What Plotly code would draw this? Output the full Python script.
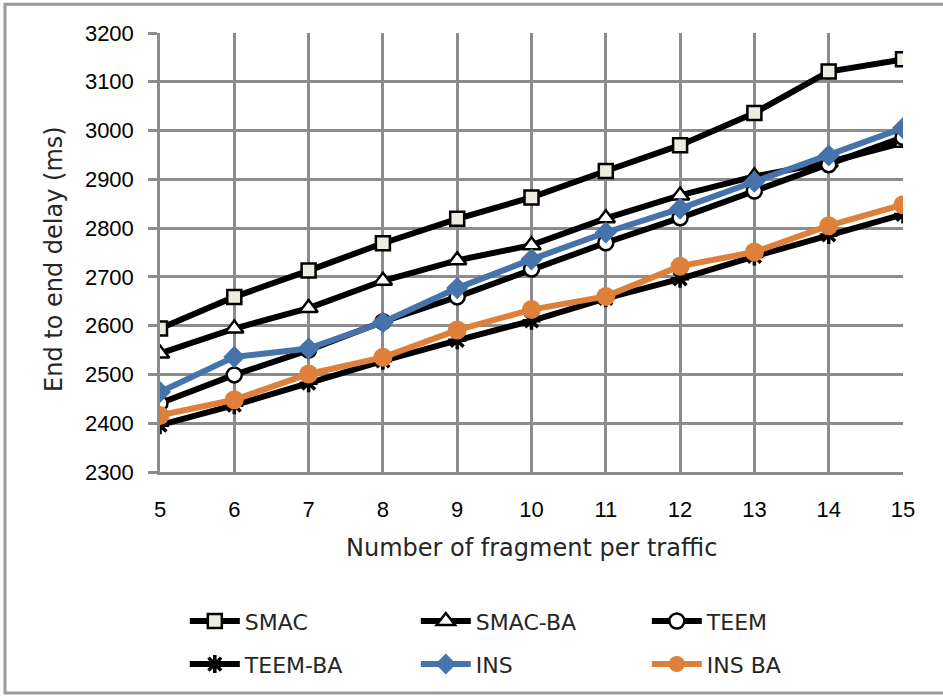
import plotly.graph_objects as go

x_vals = [5, 6, 7, 8, 9, 10, 11, 12, 13, 14, 15]

smac =    [2594, 2659, 2713, 2769, 2819, 2863, 2917, 2970, 3036, 3121, 3146]
smac_ba = [2543, 2594, 2636, 2692, 2734, 2765, 2820, 2867, 2906, 2935, 2975]
teem =    [2441, 2499, 2550, 2608, 2659, 2716, 2770, 2821, 2876, 2930, 2986]
teem_ba = [2396, 2437, 2482, 2528, 2570, 2610, 2656, 2696, 2742, 2786, 2828]
ins =     [2464, 2536, 2553, 2607, 2677, 2736, 2791, 2840, 2895, 2949, 3005]
ins_ba =  [2416, 2448, 2501, 2535, 2591, 2633, 2660, 2722, 2751, 2805, 2848]

y_ticks = [2300, 2400, 2500, 2600, 2700, 2800, 2900, 3000, 3100, 3200]

fig = go.Figure()

LW = 6
series = [
    ("SMAC", smac, "black", dict(symbol="square", size=14, color="#eeebe0", line=dict(color="black", width=2.5)), "legend"),
    ("SMAC-BA", smac_ba, "black", dict(symbol="triangle-up", size=16, color="white", line=dict(color="black", width=2.5)), "legend"),
    ("TEEM", teem, "black", dict(symbol="circle", size=15, color="white", line=dict(color="black", width=2.5)), "legend"),
    ("TEEM-BA", teem_ba, "black", dict(symbol="asterisk-open", size=15, color="black", line=dict(color="black", width=3.5)), "legend2"),
    ("INS", ins, "#4673aa", dict(symbol="diamond", size=17, color="#4673aa", line=dict(color="#4673aa", width=0)), "legend2"),
    ("INS BA", ins_ba, "#de8039", dict(symbol="circle", size=19, color="#de8039", line=dict(color="#de8039", width=0)), "legend2"),
]

for name, ys, col, mk, lg in series:
    fig.add_trace(go.Scatter(
        x=x_vals, y=ys, name=name, mode="lines+markers",
        line=dict(color=col, width=LW), marker=mk, legend=lg,
    ))

grid_col = "#8c8c8c"
tick_font = dict(family="Liberation Sans, Arial, sans-serif", size=22, color="black")
title_font = dict(family="DejaVu Sans, sans-serif", size=24, color="#262626")
legend_font = dict(family="DejaVu Sans, sans-serif", size=22, color="#262626")

fig.update_layout(
    width=943, height=697,
    margin=dict(l=160, r=40, t=33, b=223),
    paper_bgcolor="white", plot_bgcolor="white",
    showlegend=True,
    legend=dict(orientation="h", x=0.0334, y=-0.292, xanchor="left", yanchor="top",
                font=legend_font, entrywidth=166, entrywidthmode="pixels",
                itemwidth=50, bgcolor="rgba(0,0,0,0)", tracegroupgap=0),
    legend2=dict(orientation="h", x=0.0334, y=-0.39, xanchor="left", yanchor="top",
                 font=legend_font, entrywidth=166, entrywidthmode="pixels",
                 itemwidth=50, bgcolor="rgba(0,0,0,0)", tracegroupgap=0),
    xaxis=dict(range=[5, 15], tickvals=x_vals, ticktext=[str(v) for v in x_vals],
               showgrid=True, gridcolor=grid_col, gridwidth=2.5,
               showline=True, linecolor=grid_col, linewidth=2.5,
               ticks="", tickfont=tick_font, ticklabelstandoff=16, zeroline=False),
    yaxis=dict(range=[2300, 3200], tickvals=y_ticks, ticktext=[str(v) for v in y_ticks],
               showgrid=True, gridcolor=grid_col, gridwidth=2.5,
               showline=True, linecolor=grid_col, linewidth=2.5,
               ticks="outside", ticklen=9, tickcolor=grid_col, tickwidth=2.5,
               tickfont=tick_font, ticklabelstandoff=10, zeroline=False),
    annotations=[
        dict(text="Number of fragment per traffic", xref="paper", yref="paper",
             x=0.5, y=(474 - 550) / 441, xanchor="center", yanchor="middle",
             showarrow=False, font=title_font),
        dict(text="End to end delay (ms)", xref="paper", yref="paper",
             x=(54 - 160) / 743, y=(474 - 260) / 441, xanchor="center", yanchor="middle",
             textangle=-90, showarrow=False, font=title_font),
    ],
    shapes=[
        dict(type="rect", xref="paper", yref="paper",
             x0=(5 - 160) / 743, x1=(948 - 160) / 743,
             y0=(474 - 696) / 441, y1=1 + (33 - 4) / 441,
             line=dict(color="#9a9a9a", width=3), layer="below"),
    ],
)

fig.write_html("out.html")
